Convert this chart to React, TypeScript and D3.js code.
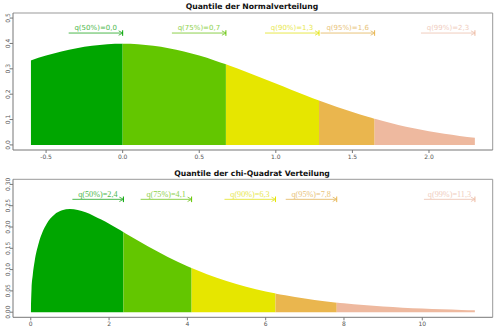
import React from "react";
import * as d3 from "d3";

// Normal distribution density
const normX = [-0.6, -0.5, -0.4, -0.3, -0.2, -0.1, 0.0, 0.1, 0.2, 0.3, 0.4, 0.5, 0.6, 0.7, 0.8, 0.9, 1.0, 1.1, 1.2, 1.3, 1.4, 1.5, 1.6, 1.7, 1.8, 1.9, 2.0, 2.1, 2.2, 2.3];
const normY = [0.3332, 0.3521, 0.3683, 0.3814, 0.391, 0.397, 0.3989, 0.397, 0.391, 0.3814, 0.3683, 0.3521, 0.3332, 0.3123, 0.2897, 0.2661, 0.242, 0.2179, 0.1942, 0.1714, 0.1497, 0.1295, 0.1109, 0.094, 0.079, 0.0656, 0.054, 0.044, 0.0355, 0.0283];
const normQuantiles = [0.0, 0.674, 1.282, 1.645, 2.326];

// Chi-square distribution density
const chiX = [0, 0.02, 0.05, 0.1, 0.2, 0.3, 0.4, 0.5, 0.6, 0.8, 1.0, 1.2, 1.4, 1.6, 1.8, 2.0, 2.2, 2.4, 2.6, 2.8, 3.0, 3.5, 4.0, 4.5, 5.0, 5.5, 6.0, 6.5, 7.0, 7.5, 8.0, 8.5, 9.0, 9.5, 10.0, 10.5, 11.0, 11.345];
const chiY = [0, 0.0559, 0.087, 0.12, 0.1614, 0.1881, 0.2066, 0.2197, 0.2289, 0.2392, 0.242, 0.2398, 0.2344, 0.2267, 0.2176, 0.2076, 0.197, 0.1862, 0.1753, 0.1646, 0.1542, 0.1297, 0.108, 0.0892, 0.0732, 0.0598, 0.0487, 0.0395, 0.0319, 0.0257, 0.0207, 0.0166, 0.0133, 0.0106, 0.0085, 0.0068, 0.0054, 0.0046];
const chiQuantiles = [2.366, 4.108, 6.251, 7.815, 11.345];

const probLabels = ["50%", "75%", "90%", "95%", "99%"];
const segColors = ["#00A600", "#63C600", "#E6E600", "#EAB64E", "#EEB99F"];
const labelColors = ["#4DB84D", "#8ED14D", "#E8E84D", "#E8C37A", "#F0CDBE"];

const normTicksX = [-0.5, 0, 0.5, 1.0, 1.5, 2.0];
const normTicksY = [0, 0.1, 0.2, 0.3, 0.4, 0.5];
const chiTicksX = [0, 2, 4, 6, 8, 10];
const chiTicksY = [0, 0.05, 0.1, 0.15, 0.2, 0.25, 0.3];

const FONT = "DejaVu Sans, Verdana, sans-serif";

interface PanelProps {
  id: string;
  title: string;
  xs: number[];
  ys: number[];
  quantiles: number[];
  yMax: number;
  top: number;
  bottom: number;
  xTicks: number[];
  yTicks: number[];
  xFmt: (v: number) => string;
  yFmt: (v: number) => string;
  titleY: number;
  arrowVal: number;
  arrowLen: number;
  labelFont: string;
  labelSize: number;
}

function Panel(p: PanelProps) {
  const left = 13;
  const right = 492.7;
  const xMin = p.xs[0];
  const xMax = p.xs[p.xs.length - 1];
  const xPad = (xMax - xMin) * 0.04;
  const yPad = p.yMax * 0.04;
  const x = d3.scaleLinear().domain([xMin - xPad, xMax + xPad]).range([left, right]);
  const y = d3.scaleLinear().domain([-yPad, p.yMax + yPad]).range([p.bottom, p.top]);
  const pts = p.xs.map((v, i) => [v, p.ys[i]] as [number, number]);
  const area = d3
    .area<[number, number]>()
    .x((d) => x(d[0]))
    .y0(y(0))
    .y1((d) => y(d[1]))
    .curve(d3.curveMonotoneX)(pts) as string;
  const bounds = [xMin, ...p.quantiles.map((q) => Math.min(q, xMax))];
  const ay = y(p.arrowVal);
  return (
    <g>
      <defs>
        {p.quantiles.map((q, i) => (
          <clipPath id={`${p.id}-clip-${i}`} key={i}>
            <rect x={x(bounds[i])} y={p.top} width={x(bounds[i + 1]) - x(bounds[i])} height={p.bottom - p.top} />
          </clipPath>
        ))}
      </defs>
      <text x={252} y={p.titleY} textAnchor="middle" fontFamily={FONT} fontWeight="bold" fontSize={7.7} fill="#111">
        {p.title}
      </text>
      {p.quantiles.map((q, i) => (
        <path key={i} d={area} fill={segColors[i]} clipPath={`url(#${p.id}-clip-${i})`} />
      ))}
      {/* box */}
      <line x1={left} x2={right} y1={p.top} y2={p.top} stroke="#999" strokeWidth={1} />
      <line x1={right} x2={right} y1={p.top} y2={p.bottom} stroke="#999" strokeWidth={1} />
      <line x1={left} x2={left} y1={p.top} y2={p.bottom} stroke="#777" strokeWidth={1} />
      <line x1={left} x2={right} y1={p.bottom} y2={p.bottom} stroke="#777" strokeWidth={1} />
      {p.xTicks.map((t) => (
        <g key={t}>
          <line x1={x(t)} x2={x(t)} y1={p.bottom} y2={p.bottom + 3} stroke="#777" />
          <text x={x(t)} y={p.bottom + 8.5} textAnchor="middle" fontFamily={FONT} fontSize={6} fill="#555">
            {p.xFmt(t)}
          </text>
        </g>
      ))}
      {p.yTicks.map((t) => (
        <g key={t}>
          <line x1={left - 3} x2={left} y1={y(t)} y2={y(t)} stroke="#777" />
          <text
            transform={`translate(9.5,${y(t)}) rotate(-90)`}
            textAnchor="middle"
            fontFamily={FONT}
            fontSize={6}
            fill="#555"
          >
            {p.yFmt(t)}
          </text>
        </g>
      ))}
      {p.quantiles.map((q, i) => {
        const tip = x(Math.min(q, xMax));
        const start = tip - p.arrowLen;
        const label = `q(${probLabels[i]})=${q.toFixed(1).replace(".", ",")}`;
        return (
          <g key={i}>
            <line x1={start} x2={tip} y1={ay} y2={ay} stroke={labelColors[i]} strokeWidth={1} />
            <path d={`M${tip - 4},${ay - 2.2}L${tip},${ay}L${tip - 4},${ay + 2.2}`} fill="none" stroke={labelColors[i]} strokeWidth={1} />
            <line x1={tip} x2={tip} y1={ay - 2.8} y2={ay + 2.8} stroke={segColors[i]} strokeWidth={1} />
            <text x={(start + tip) / 2} y={ay - 2.6} textAnchor="middle" fontFamily={p.labelFont} fontSize={p.labelSize} fill={labelColors[i]}>
              {label}
            </text>
          </g>
        );
      })}
    </g>
  );
}

export default function App() {
  return (
    <svg width={499} height={333} style={{ position: "absolute", left: 0, top: 0, background: "#fff" }}>
      <rect width={499} height={333} fill="#fff" />
      <Panel
        id="norm"
        title="Quantile der Normalverteilung"
        xs={normX}
        ys={normY}
        quantiles={normQuantiles}
        yMax={0.5}
        top={13}
        bottom={150}
        xTicks={normTicksX}
        yTicks={normTicksY}
        xFmt={(v) => v.toFixed(1)}
        yFmt={(v) => v.toFixed(1)}
        titleY={8.5}
        arrowVal={0.441}
        arrowLen={54}
        labelFont={FONT}
        labelSize={7}
      />
      <Panel
        id="chi"
        title="Quantile der chi-Quadrat Verteilung"
        xs={chiX}
        ys={chiY}
        quantiles={chiQuantiles}
        yMax={0.3}
        top={179.3}
        bottom={317.3}
        xTicks={chiTicksX}
        yTicks={chiTicksY}
        xFmt={(v) => String(v)}
        yFmt={(v) => v.toFixed(2)}
        titleY={175.5}
        arrowVal={0.265}
        arrowLen={51}
        labelFont={"Liberation Serif, serif"}
        labelSize={8.2}
      />
    </svg>
  );
}
